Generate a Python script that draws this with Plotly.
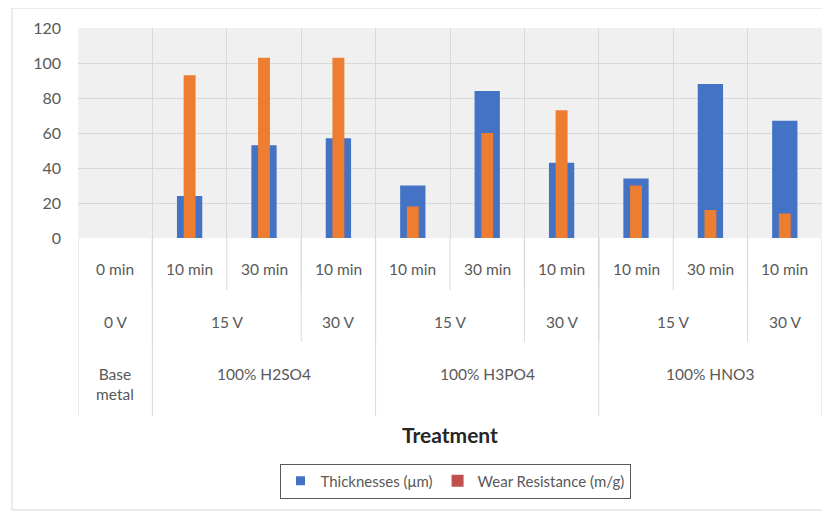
import plotly.graph_objects as go

minutes = ["0 min", "10 min", "30 min", "10 min", "10 min", "30 min", "10 min", "10 min", "30 min", "10 min"]
voltages = ["0 V", "15 V", "15 V", "30 V", "15 V", "15 V", "30 V", "15 V", "15 V", "30 V"]
acids = ["Base<br>metal", "100% H2SO4", "100% H2SO4", "100% H2SO4",
         "100% H3PO4", "100% H3PO4", "100% H3PO4",
         "100% HNO3", "100% HNO3", "100% HNO3"]
thickness = [0, 24, 53, 57, 30, 84, 43, 34, 88, 67]
wear = [0, 93, 103, 103, 18, 60, 73, 30, 16, 14]

BLUE = "#4472C4"
ORANGE = "#ED7D31"
LEGRED = "#C0504D"
TXT = "#595959"
FONT = "Lato, Open Sans, sans-serif"

# page offset of the plot div (body margin)
OFF = 8
W, H = 830 - OFF, 514 - OFF
PL, PR, PT, PB = 78, 822, 28, 238  # plot area in page pixels
L, T = PL - OFF, PT - OFF
R = W - (PR - OFF)
B = H - (PB - OFF)
pw, ph = PR - PL, PB - PT

def py(pix):
    return (PB - pix) / ph

def px(pix):
    return (pix - PL) / pw

n = len(minutes)
xs = list(range(n))

fig = go.Figure()
fig.add_trace(go.Bar(x=xs, y=thickness, width=0.34, marker=dict(color=BLUE, line=dict(width=0)),
                     name="Thicknesses (μm)", showlegend=False))
fig.add_trace(go.Bar(x=xs, y=wear, width=0.16, marker=dict(color=ORANGE, line=dict(width=0)),
                     name="Wear Resistance (m/g)", showlegend=False))
# legend entries
fig.add_trace(go.Scatter(x=[None], y=[None], mode="markers", name="Thicknesses (μm)",
                         marker=dict(symbol="square", size=9, color=BLUE)))
fig.add_trace(go.Scatter(x=[None], y=[None], mode="markers", name="Wear Resistance (m/g)",
                         marker=dict(symbol="square", size=12, color=LEGRED)))

shapes = []
annotations = []
LINE = dict(color="#d9d9d9", width=1)
LBL = dict(size=15.5, color=TXT, family=FONT)

def runs(labels, parent=None):
    out = []
    start = 0
    for i in range(1, n + 1):
        if i == n or labels[i] != labels[start] or (parent is not None and parent[i] != parent[start]):
            out.append((start, i - 1, labels[start]))
            start = i
    return out

def label(x, y, text, yanchor="middle"):
    annotations.append(dict(x=x, y=y, xref="x", yref="paper", text=text, showarrow=False,
                            xanchor="center", yanchor=yanchor, font=LBL))

# row 1 : minutes
y1, y1line = py(269), py(290)
for i, m in enumerate(minutes):
    label(i, y1, m)
    if i > 0:
        shapes.append(dict(type="line", xref="x", yref="paper", x0=i - 0.5, x1=i - 0.5,
                           y0=0, y1=y1line, line=LINE))

# row 2 : voltages
y2, y2line = py(322), py(342)
for a, b, lab in runs(voltages, acids):
    label((a + b) / 2, y2, lab)
    if a > 0:
        shapes.append(dict(type="line", xref="x", yref="paper", x0=a - 0.5, x1=a - 0.5,
                           y0=0, y1=y2line, line=LINE))

# row 3 : acids
y3, y3line = py(363), py(416)
for a, b, lab in runs(acids):
    label((a + b) / 2, y3, lab, yanchor="top")
    shapes.append(dict(type="line", xref="x", yref="paper", x0=a - 0.5, x1=a - 0.5,
                       y0=0, y1=y3line, line=LINE))
shapes.append(dict(type="line", xref="x", yref="paper", x0=n - 0.5, x1=n - 0.5,
                   y0=0, y1=y3line, line=LINE))

# outer chart border
shapes.append(dict(type="rect", xref="paper", yref="paper", x0=px(12), x1=px(826),
                   y0=py(8), y1=py(510), line=dict(color="#d9d9d9", width=1), layer="below"))

annotations.append(dict(x=px(450), y=py(434), xref="paper", yref="paper", text="<b>Treatment</b>",
                        showarrow=False, xanchor="center", yanchor="middle",
                        font=dict(size=21, color="#262626", family=FONT)))

fig.update_layout(
    width=W, height=H,
    margin=dict(l=L, r=R, t=T, b=B),
    paper_bgcolor="white",
    plot_bgcolor="#f0f0f0",
    barmode="overlay",
    font=dict(family=FONT, color=TXT, size=15),
    xaxis=dict(range=[-0.5, n - 0.5], tickvals=[i - 0.5 for i in range(n + 1)],
               showticklabels=False, ticks="", showgrid=True, gridcolor="#d9d9d9",
               zeroline=False, showline=False),
    yaxis=dict(range=[0, 120], dtick=20, showgrid=True, gridcolor="#d9d9d9", zeroline=False,
               showline=False, ticks="", tickfont=dict(size=16, color=TXT), ticklabelstandoff=16),
    legend=dict(orientation="h", x=px(455), xanchor="center", y=py(481), yanchor="middle",
                bordercolor="#595959", borderwidth=1, bgcolor="white",
                font=dict(size=15, color=TXT, family=FONT), itemwidth=30,
                tracegroupgap=0),
    shapes=shapes,
    annotations=annotations,
)

fig.write_html("out.html")
